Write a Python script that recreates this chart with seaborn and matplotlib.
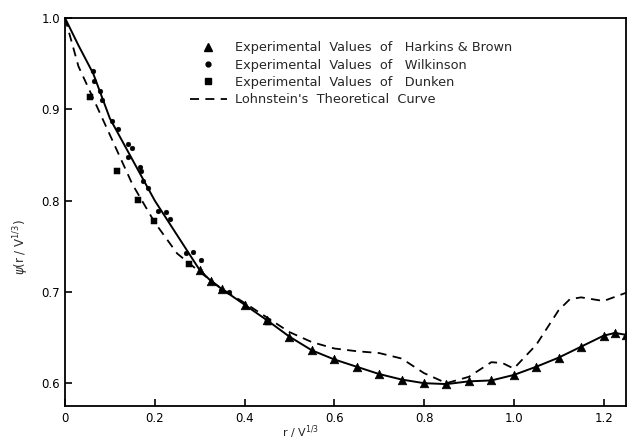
import numpy as np
import pandas as pd
import matplotlib
matplotlib.use("Agg")
import matplotlib.pyplot as plt
import seaborn as sns
from matplotlib.lines import Line2D

# ---- data ----
hb_x = [0.30, 0.325, 0.35, 0.40, 0.45, 0.50, 0.55, 0.60, 0.65, 0.70, 0.75, 0.80,
        0.85, 0.90, 0.95, 1.00, 1.05, 1.10, 1.15, 1.20, 1.225, 1.25]
hb_y = [0.724, 0.712, 0.703, 0.686, 0.669, 0.651, 0.636, 0.626, 0.618, 0.610, 0.604, 0.600,
        0.599, 0.602, 0.603, 0.609, 0.618, 0.628, 0.640, 0.652, 0.655, 0.653]

fit_x = [0.0, 0.03, 0.063, 0.10, 0.15, 0.20, 0.25] + hb_x
fit_y = [1.0, 0.970, 0.939, 0.890, 0.845, 0.800, 0.762] + hb_y

wil_x = [0.063, 0.065, 0.079, 0.083, 0.104, 0.118, 0.141, 0.150, 0.141, 0.166, 0.170,
         0.174, 0.185, 0.207, 0.226, 0.235, 0.270, 0.285, 0.304, 0.348, 0.365]
wil_y = [0.942, 0.931, 0.920, 0.910, 0.887, 0.878, 0.862, 0.858, 0.848, 0.837, 0.832,
         0.822, 0.814, 0.789, 0.788, 0.780, 0.743, 0.744, 0.735, 0.702, 0.700]

dun_x = [0.056, 0.115, 0.163, 0.198, 0.276, 0.452]
dun_y = [0.914, 0.832, 0.801, 0.778, 0.730, 0.667]

loh_x = [0.0, 0.03, 0.06, 0.10, 0.15, 0.20, 0.25, 0.30, 0.35, 0.40, 0.45, 0.50, 0.55,
         0.60, 0.65, 0.70, 0.75, 0.80, 0.85, 0.90, 0.95, 0.975, 1.00, 1.05, 1.10,
         1.125, 1.15, 1.20, 1.25]
loh_y = [1.0, 0.947, 0.915, 0.872, 0.818, 0.776, 0.742, 0.722, 0.703, 0.688, 0.672, 0.656,
         0.645, 0.638, 0.635, 0.633, 0.627, 0.611, 0.600, 0.607, 0.623, 0.622, 0.616,
         0.642, 0.680, 0.692, 0.694, 0.690, 0.699]

x_ticks = [0, 0.2, 0.4, 0.6, 0.8, 1.0, 1.2]
x_ticklabels = ["0", "0.2", "0.4", "0.6", "0.8", "1.0", "1.2"]
y_ticks = [0.6, 0.7, 0.8, 0.9, 1.0]
y_ticklabels = ["0.6", "0.7", "0.8", "0.9", "1.0"]

labels = ["Experimental  Values  of   Harkins & Brown",
          "Experimental  Values  of   Wilkinson",
          "Experimental  Values  of   Dunken",
          "Lohnstein's  Theoretical  Curve"]

sns.set_style("ticks")
plt.rcParams['font.family'] = ['DejaVu Sans']

fig = plt.figure(figsize=(6.27, 4.42), dpi=100)
ax = fig.add_axes([65/627, 36/442, 561/627, 388/442])

sns.lineplot(x=fit_x, y=fit_y, ax=ax, color="black", lw=1.4, sort=False, estimator=None)
sns.lineplot(x=loh_x, y=loh_y, ax=ax, color="black", lw=1.3, sort=False, estimator=None,
             linestyle=(0, (5, 3.5)))
sns.scatterplot(x=hb_x, y=hb_y, ax=ax, marker="^", s=38, color="black", edgecolor="black", zorder=5)
sns.scatterplot(x=wil_x, y=wil_y, ax=ax, marker="o", s=12, color="black", edgecolor="black", zorder=5)
sns.scatterplot(x=dun_x, y=dun_y, ax=ax, marker="s", s=20, color="black", edgecolor="black", zorder=5)

ax.set_xlim(0, 1.25)
ax.set_ylim(0.575, 1.0)
ax.set_xticks(x_ticks)
ax.set_xticklabels(x_ticklabels)
ax.set_yticks(y_ticks)
ax.set_yticklabels(y_ticklabels)
ax.tick_params(direction="in", length=5, width=1.2, labelsize=8.5, colors="black")
ax.tick_params(axis="x", pad=4)
for s in ax.spines.values():
    s.set_linewidth(1.3)
    s.set_color("black")

ax.set_xlabel(r"r / V$^{1/3}$", fontsize=8)
ax.xaxis.set_label_coords(0.42, -0.046)
ax.set_ylabel(r"$\psi$(r / V$^{1/3}$)", fontsize=8.5)
ax.yaxis.set_label_coords(-0.06, 0.41)

handles = [
    Line2D([], [], marker="^", color="black", linestyle="none", markersize=6),
    Line2D([], [], marker="o", color="black", linestyle="none", markersize=3.5),
    Line2D([], [], marker="s", color="black", linestyle="none", markersize=4.5),
    Line2D([], [], color="black", lw=1.3, linestyle=(0, (5, 3.5))),
]
ax.legend(handles, labels, loc="upper left", bbox_to_anchor=(0.222, 0.94),
          frameon=False, fontsize=9.3, handlelength=2.9, handletextpad=0.6,
          labelspacing=0.33, borderpad=0, borderaxespad=0)

fig.savefig("out.png", dpi=100)
